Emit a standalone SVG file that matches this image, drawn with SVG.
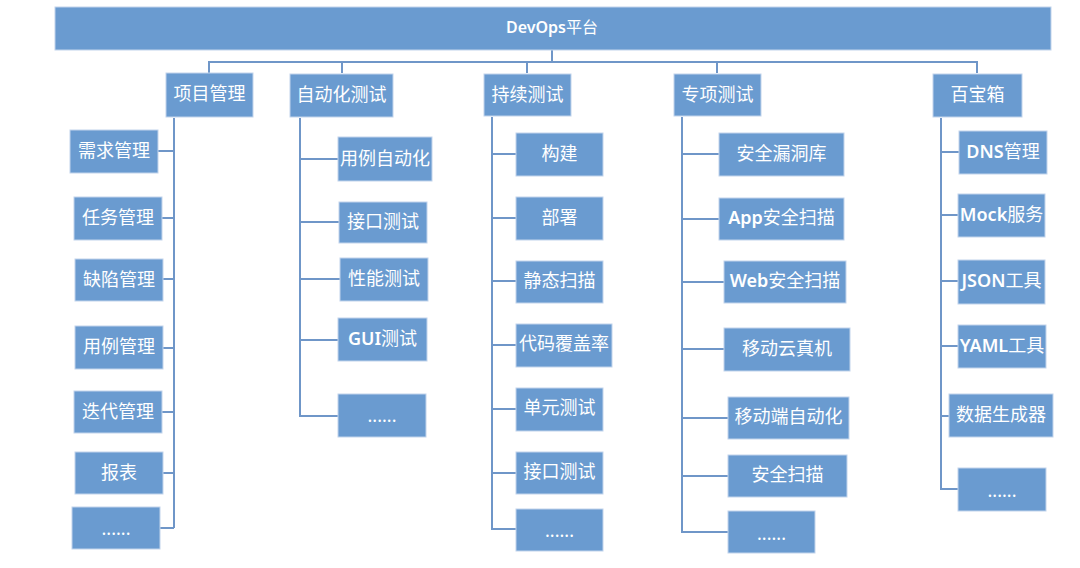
<svg xmlns="http://www.w3.org/2000/svg" width="1080" height="568" viewBox="0 0 1080 568">
<style>
.b{fill:#6a9bd0;stroke:#c2d4ec;stroke-width:1}
.t{fill:#ffffff;font-family:"Noto Sans","Noto Sans CJK SC",sans-serif;font-size:18px;text-anchor:middle;dominant-baseline:central}
.h{font-size:16px}
.l{font-weight:600}
.c{fill:none;stroke:#6f96c8;stroke-width:2}
</style>
<rect width="1080" height="568" fill="#ffffff"/>
<g id="connectors">
<path class="c" d="M552 50V62M209 73V62H977V73M342 62V73M527 62V73M717 62V73"/>
<path class="c" d="M174 118V528M158 151H174M162 218H174M163 279H174M163 348H174M162 412H174M163 473H174M160 528H174"/>
<path class="c" d="M300 118V416H338M300 159H338M300 222H339M300 279H340M300 340H338"/>
<path class="c" d="M492 117V529H516M492 154H516M492 218H516M492 281H516M492 345H516M492 409H516M492 473H516"/>
<path class="c" d="M682 117V532H728M682 154H719M682 219H719M682 282H724M682 349H724M682 418H728M682 476H728"/>
<path class="c" d="M941 118V489H958M941 152H959M941 215H958M941 281H958M941 346H958M941 416H949"/>
</g>
<g id="root"><rect class="b" x="55" y="7" width="996" height="43"/><text class="t h" x="552" y="26.5"><tspan class="l">DevOps</tspan>平台</text></g>
<g id="n-xmgl"><rect class="b" x="166" y="73" width="87" height="44"/><text class="t" x="209.5" y="93">项目管理</text></g>
<g id="n-xqgl"><rect class="b" x="70" y="130" width="88" height="43"/><text class="t" x="114" y="150">需求管理</text></g>
<g id="n-rwgl"><rect class="b" x="74" y="197" width="88" height="43"/><text class="t" x="118" y="217">任务管理</text></g>
<g id="n-qxgl"><rect class="b" x="75" y="259" width="88" height="42"/><text class="t" x="119" y="279">缺陷管理</text></g>
<g id="n-ylgl"><rect class="b" x="75" y="326" width="88" height="43"/><text class="t" x="119" y="346">用例管理</text></g>
<g id="n-ddgl"><rect class="b" x="74" y="391" width="88" height="42"/><text class="t" x="118" y="411">迭代管理</text></g>
<g id="n-bb"><rect class="b" x="75" y="452" width="88" height="42"/><text class="t" x="119" y="472">报表</text></g>
<g id="n-more1"><rect class="b" x="72" y="507" width="88" height="42"/><text class="t" x="116" y="528">......</text></g>

<g id="n-zdhcs"><rect class="b" x="290" y="74" width="103" height="43"/><text class="t" x="341.5" y="93.5">自动化测试</text></g>
<g id="n-ylzdh"><rect class="b" x="338" y="137" width="94" height="44"/><text class="t" x="385" y="158">用例自动化</text></g>
<g id="n-jkcs1"><rect class="b" x="339" y="202" width="88" height="41"/><text class="t" x="383" y="221">接口测试</text></g>
<g id="n-xncs"><rect class="b" x="340" y="258" width="88" height="43"/><text class="t" x="384" y="278">性能测试</text></g>
<g id="n-gui"><rect class="b" x="338" y="318" width="89" height="43"/><text class="t" x="382.5" y="338"><tspan class="l">GUI</tspan>测试</text></g>
<g id="n-more2"><rect class="b" x="338" y="394" width="88" height="43"/><text class="t" x="382" y="415">......</text></g>

<g id="n-cxcs"><rect class="b" x="484" y="74" width="87" height="42"/><text class="t" x="527.5" y="93.5">持续测试</text></g>
<g id="n-gj"><rect class="b" x="516" y="133" width="87" height="43"/><text class="t" x="559.5" y="153">构建</text></g>
<g id="n-bs"><rect class="b" x="516" y="197" width="87" height="43"/><text class="t" x="559.5" y="217">部署</text></g>
<g id="n-jtsm"><rect class="b" x="516" y="261" width="87" height="42"/><text class="t" x="559.5" y="280">静态扫描</text></g>
<g id="n-dmfgl"><rect class="b" x="516" y="324" width="96" height="43"/><text class="t" x="564" y="343">代码覆盖率</text></g>
<g id="n-dycs"><rect class="b" x="516" y="388" width="87" height="43"/><text class="t" x="559.5" y="407">单元测试</text></g>
<g id="n-jkcs2"><rect class="b" x="516" y="452" width="87" height="42"/><text class="t" x="559.5" y="471">接口测试</text></g>
<g id="n-more3"><rect class="b" x="516" y="509" width="87" height="42"/><text class="t" x="559.5" y="530">......</text></g>

<g id="n-zxcs"><rect class="b" x="674" y="74" width="87" height="42"/><text class="t" x="717.5" y="93.5">专项测试</text></g>
<g id="n-aqldk"><rect class="b" x="719" y="133" width="125" height="43"/><text class="t" x="781.5" y="153">安全漏洞库</text></g>
<g id="n-appsm"><rect class="b" x="719" y="198" width="125" height="42"/><text class="t" x="781.5" y="217"><tspan class="l">App</tspan>安全扫描</text></g>
<g id="n-websm"><rect class="b" x="724" y="261" width="122" height="42"/><text class="t" x="785" y="280"><tspan class="l">Web</tspan>安全扫描</text></g>
<g id="n-ydyzj"><rect class="b" x="724" y="328" width="126" height="43"/><text class="t" x="787" y="348">移动云真机</text></g>
<g id="n-ydzdh"><rect class="b" x="728" y="397" width="121" height="42"/><text class="t" x="788.5" y="416">移动端自动化</text></g>
<g id="n-aqsm"><rect class="b" x="728" y="455" width="119" height="42"/><text class="t" x="787.5" y="474">安全扫描</text></g>
<g id="n-more4"><rect class="b" x="728" y="511" width="87" height="42"/><text class="t" x="771.5" y="533">......</text></g>

<g id="n-bbx"><rect class="b" x="933" y="74" width="89" height="43"/><text class="t" x="977.5" y="93.5">百宝箱</text></g>
<g id="n-dns"><rect class="b" x="959" y="131" width="88" height="43"/><text class="t" x="1003" y="151"><tspan class="l">DNS</tspan>管理</text></g>
<g id="n-mock"><rect class="b" x="958" y="194" width="87" height="43"/><text class="t" x="1001.5" y="214"><tspan class="l">Mock</tspan>服务</text></g>
<g id="n-json"><rect class="b" x="958" y="260" width="87" height="44"/><text class="t" x="1001.5" y="280"><tspan class="l">JSON</tspan>工具</text></g>
<g id="n-yaml"><rect class="b" x="958" y="325" width="88" height="43"/><text class="t" x="1002" y="345"><tspan class="l">YAML</tspan>工具</text></g>
<g id="n-sjscq"><rect class="b" x="949" y="394" width="104" height="43"/><text class="t" x="1001" y="414">数据生成器</text></g>
<g id="n-more5"><rect class="b" x="958" y="468" width="88" height="43"/><text class="t" x="1002" y="490">......</text></g>
</svg>
